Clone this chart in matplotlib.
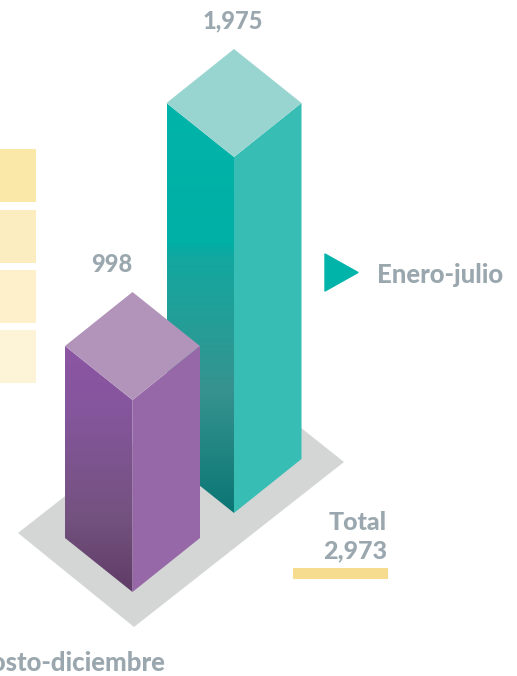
import numpy as np
import matplotlib
matplotlib.use('Agg')
import matplotlib.pyplot as plt
from matplotlib.colors import LinearSegmentedColormap
from matplotlib.patches import Polygon, Rectangle

# data
periods = ['Agosto-diciembre', 'Enero-julio']
values = [998, 1975]
value_labels = ['998', '1,975']
total_label = ['Total', '2,973']

plt.rcParams['font.family'] = ['Lato', 'DejaVu Sans']
GREY_TEXT = '#9aa7ae'
FS = 18.5

# the drawing is not to one common scale, so each bar has its own
px_per_unit = [192 / 998, 356 / 1975]
front_x = [132.5, 234]
front_base = [592, 513]
half_w = [67.5, 67.5]
half_h = 54
label_x = [112, 233]

top_colors = ['#b294ba', '#98d5d1']
right_colors = ['#9768a8', '#38bdb5']
left_stops = [
    [(0, '#8c55a3'), (0.25, '#85569d'), (0.7, '#74527f'), (1, '#5e3c66')],
    [(0, '#00b4a9'), (0.34, '#00afa5'), (0.375, '#12a8a0'), (0.7, '#36938f'), (1, '#0b7674')],
]

fig = plt.figure(figsize=(5.17, 6.76), dpi=100)
ax = fig.add_axes([0, 0, 1, 1])
ax.set_xlim(0, 517)
ax.set_ylim(676, 0)
ax.axis('off')

# floor shadow
ax.add_patch(Polygon([(18, 533), (134, 627), (344, 462), (227, 369)],
                     closed=True, fc='#d4d6d5', ec='none', zorder=1))

# colour scale swatches
swatch_y = [149, 210, 270, 330]
swatch_c = ['#fae8a9', '#fcedc1', '#fdf0cb', '#fdf3d7']
for y, c in zip(swatch_y, swatch_c):
    ax.add_patch(Rectangle((0, y), 36, 53, fc=c, ec='none'))

for i in np.argsort(values)[::-1]:
    h = values[i] * px_per_unit[i]
    cx, base, w = front_x[i], front_base[i], half_w[i]
    z = 2 + (1 - i) * 2
    top_y = base - h

    # left face with a vertical gradient
    left = Polygon([(cx - w, base - half_h), (cx, base), (cx, top_y), (cx - w, top_y - half_h)],
                   closed=True, fc='none', ec='none', zorder=z)
    ax.add_patch(left)
    cmap = LinearSegmentedColormap.from_list('f%d' % i, left_stops[i])
    grad = np.linspace(0, 1, 256).reshape(-1, 1)
    im = ax.imshow(grad, cmap=cmap, aspect='auto', zorder=z,
                   extent=[cx - w, cx, base, top_y - half_h])
    im.set_clip_path(left)

    # right face and top
    ax.add_patch(Polygon([(cx, base), (cx + w, base - half_h), (cx + w, top_y - half_h), (cx, top_y)],
                         closed=True, fc=right_colors[i], ec='none', zorder=z))
    ax.add_patch(Polygon([(cx, top_y), (cx + w, top_y - half_h), (cx, top_y - 2 * half_h), (cx - w, top_y - half_h)],
                         closed=True, fc=top_colors[i], ec='none', zorder=z))

    ax.text(label_x[i], top_y - 2 * half_h - 28, value_labels[i], ha='center', va='center',
            color=GREY_TEXT, fontsize=17, fontweight='black')

ax.set_xlim(0, 517)
ax.set_ylim(676, 0)

# legend marker + labels
ax.add_patch(Polygon([(325, 254), (358, 272.5), (325, 291)], closed=True,
                     fc='#00b4a9', ec='#00b4a9', lw=1, joinstyle='round'))
ax.text(503, 275, periods[1], ha='right', va='center', color=GREY_TEXT, fontsize=FS, fontweight='black')
ax.text(165, 663, periods[0], ha='right', va='center', color=GREY_TEXT, fontsize=FS, fontweight='black')

ax.text(387, 523, total_label[0], ha='right', va='center', color=GREY_TEXT, fontsize=FS - 0.5, fontweight='black')
ax.text(387, 551, total_label[1], ha='right', va='center', color=GREY_TEXT, fontsize=FS - 0.5, fontweight='black')
ax.add_patch(Rectangle((293, 568), 95, 11, fc='#f5dc8f', ec='none'))

fig.savefig('out.png', dpi=100)
